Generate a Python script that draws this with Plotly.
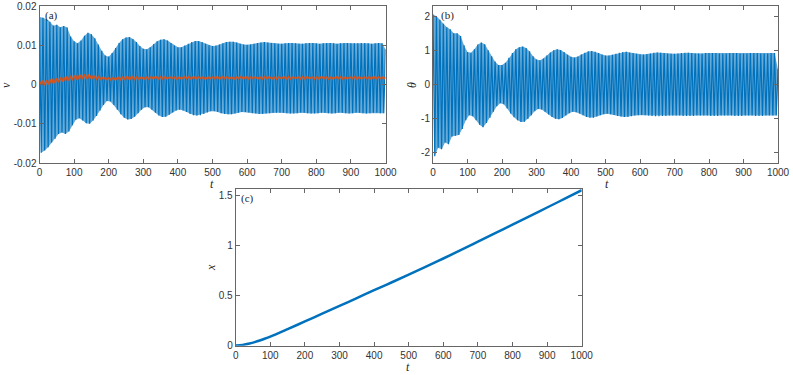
import plotly.graph_objects as go

# time grids: upper peaks at every 10, lower troughs half a period later
t_up = list(range(0, 1001, 10))
t_lo = list(range(5, 1000, 10))

# panel (a): v, blue envelope
v_upper = [
    0.0172, 0.0170, 0.0166, 0.0160, 0.0150, 0.0152, 0.0146, 0.0149, 0.0145, 0.0122,
    0.0110, 0.0105, 0.0112, 0.0124, 0.0132, 0.0128, 0.0118, 0.0102, 0.0086, 0.0074,
    0.0071, 0.0080, 0.0093, 0.0106, 0.0115, 0.0120, 0.0121, 0.0116, 0.0108, 0.0098,
    0.0091, 0.0090, 0.0095, 0.0103, 0.0110, 0.0114, 0.0115, 0.0112, 0.0106, 0.0099,
    0.0095, 0.0095, 0.0099, 0.0104, 0.0108, 0.0111, 0.0111, 0.0108, 0.0104, 0.0100,
    0.0098, 0.0099, 0.0102, 0.0105, 0.0108, 0.0109, 0.0109, 0.0107, 0.0104, 0.0102,
    0.0101, 0.0102, 0.0104, 0.0106, 0.0107, 0.0108, 0.0107, 0.0106, 0.0105, 0.0104,
    0.0104, 0.0105, 0.0106, 0.0106, 0.0105, 0.0104, 0.0104, 0.0105, 0.0106, 0.0106,
    0.0105, 0.0104, 0.0105, 0.0106, 0.0106, 0.0105, 0.0104, 0.0105, 0.0106, 0.0106,
    0.0105, 0.0105, 0.0105, 0.0106, 0.0106, 0.0105, 0.0104, 0.0105, 0.0106, 0.0105,
    0.0090,
]
v_lower = [
    -0.0174, -0.0168, -0.0160, -0.0148, -0.0138, -0.0126, -0.0122, -0.0126, -0.0120, -0.0104,
    -0.0090, -0.0086, -0.0092, -0.0099, -0.0100, -0.0092, -0.0080, -0.0066, -0.0052, -0.0042,
    -0.0043, -0.0052, -0.0064, -0.0076, -0.0085, -0.0089, -0.0088, -0.0082, -0.0073, -0.0064,
    -0.0058, -0.0058, -0.0064, -0.0072, -0.0079, -0.0083, -0.0082, -0.0077, -0.0071, -0.0066,
    -0.0064, -0.0066, -0.0070, -0.0075, -0.0078, -0.0079, -0.0078, -0.0075, -0.0071, -0.0068,
    -0.0068, -0.0070, -0.0073, -0.0075, -0.0076, -0.0076, -0.0074, -0.0072, -0.0070, -0.0070,
    -0.0071, -0.0073, -0.0074, -0.0075, -0.0075, -0.0074, -0.0073, -0.0072, -0.0072, -0.0072,
    -0.0072, -0.0073, -0.0074, -0.0074, -0.0073, -0.0072, -0.0072, -0.0073, -0.0074, -0.0074,
    -0.0073, -0.0072, -0.0072, -0.0073, -0.0074, -0.0073, -0.0072, -0.0072, -0.0073, -0.0074,
    -0.0073, -0.0072, -0.0072, -0.0073, -0.0074, -0.0073, -0.0072, -0.0072, -0.0073, -0.0073,
]

# panel (a): orange band
w_upper = [
    0.0008, 0.0010, 0.0011, 0.0013, 0.0015, 0.0016, 0.0018, 0.0019, 0.0021, 0.0022,
    0.0023, 0.0024, 0.0025, 0.0026, 0.0026, 0.0024, 0.0022, 0.0020, 0.0019, 0.0018,
    0.0017, 0.0017, 0.0018, 0.0019, 0.0020, 0.0021, 0.0021, 0.0020, 0.0019, 0.0019,
    0.0019, 0.0019, 0.0019, 0.0020, 0.0020, 0.0020, 0.0020, 0.0019, 0.0019, 0.0019,
    0.0019, 0.0019, 0.0020, 0.0020, 0.0020, 0.0020, 0.0019, 0.0019, 0.0019, 0.0019,
    0.0019, 0.0020, 0.0020, 0.0020, 0.0019, 0.0019, 0.0019, 0.0019, 0.0020, 0.0020,
    0.0020, 0.0019, 0.0019, 0.0019, 0.0019, 0.0020, 0.0020, 0.0019, 0.0019, 0.0019,
    0.0019, 0.0020, 0.0020, 0.0019, 0.0019, 0.0019, 0.0020, 0.0020, 0.0019, 0.0019,
    0.0019, 0.0020, 0.0020, 0.0019, 0.0019, 0.0019, 0.0020, 0.0020, 0.0019, 0.0019,
    0.0019, 0.0020, 0.0020, 0.0019, 0.0019, 0.0019, 0.0020, 0.0020, 0.0019, 0.0019,
    0.0019,
]
w_lower = [
    -0.0001, -0.0002, 0.0000, 0.0002, 0.0004, 0.0006, 0.0007, 0.0009, 0.0010, 0.0011,
    0.0012, 0.0013, 0.0014, 0.0014, 0.0014, 0.0014, 0.0014, 0.0013, 0.0013, 0.0013,
    0.0012, 0.0012, 0.0012, 0.0012, 0.0012, 0.0012, 0.0013, 0.0013, 0.0014, 0.0014,
    0.0014, 0.0014, 0.0015, 0.0015, 0.0014, 0.0014, 0.0014, 0.0015, 0.0015, 0.0014,
    0.0014, 0.0015, 0.0015, 0.0014, 0.0014, 0.0015, 0.0015, 0.0014, 0.0014, 0.0015,
    0.0015, 0.0014, 0.0014, 0.0015, 0.0015, 0.0014, 0.0014, 0.0015, 0.0015, 0.0014,
    0.0014, 0.0015, 0.0015, 0.0014, 0.0014, 0.0015, 0.0015, 0.0014, 0.0014, 0.0015,
    0.0015, 0.0014, 0.0014, 0.0015, 0.0015, 0.0014, 0.0014, 0.0015, 0.0015, 0.0014,
    0.0014, 0.0015, 0.0015, 0.0014, 0.0014, 0.0015, 0.0015, 0.0014, 0.0014, 0.0015,
    0.0015, 0.0014, 0.0014, 0.0015, 0.0015, 0.0014, 0.0014, 0.0015, 0.0015, 0.0014,
]

# panel (b): theta envelope
th_upper = [
    2.05, 2.00, 1.90, 1.78, 1.68, 1.62, 1.50, 1.50, 1.42, 1.15,
    0.95, 0.93, 1.03, 1.17, 1.23, 1.18, 1.00, 0.83, 0.67, 0.57,
    0.57, 0.64, 0.78, 0.92, 1.03, 1.09, 1.11, 1.07, 0.97, 0.83,
    0.73, 0.71, 0.76, 0.85, 0.94, 1.00, 1.03, 1.01, 0.95, 0.87,
    0.81, 0.79, 0.82, 0.88, 0.93, 0.97, 0.98, 0.96, 0.92, 0.88,
    0.85, 0.85, 0.87, 0.90, 0.93, 0.95, 0.96, 0.94, 0.92, 0.90,
    0.88, 0.88, 0.89, 0.91, 0.93, 0.94, 0.93, 0.92, 0.91, 0.90,
    0.90, 0.91, 0.92, 0.93, 0.93, 0.92, 0.91, 0.91, 0.91, 0.92,
    0.92, 0.92, 0.92, 0.91, 0.91, 0.91, 0.92, 0.92, 0.92, 0.91,
    0.91, 0.91, 0.92, 0.92, 0.92, 0.91, 0.91, 0.91, 0.92, 0.92,
    0.45,
]
th_lower = [
    -2.10, -1.85, -1.90, -1.70, -1.75, -1.52, -1.50, -1.48, -1.30, -1.05,
    -0.90, -0.93, -1.05, -1.18, -1.25, -1.13, -0.97, -0.80, -0.64, -0.55,
    -0.58, -0.70, -0.85, -0.96, -1.05, -1.10, -1.09, -1.01, -0.90, -0.78,
    -0.72, -0.73, -0.80, -0.88, -0.95, -1.00, -1.02, -0.98, -0.91, -0.84,
    -0.80, -0.81, -0.85, -0.90, -0.95, -0.97, -0.97, -0.94, -0.90, -0.87,
    -0.86, -0.87, -0.89, -0.92, -0.94, -0.95, -0.95, -0.93, -0.91, -0.90,
    -0.89, -0.90, -0.91, -0.92, -0.93, -0.93, -0.92, -0.92, -0.91, -0.91,
    -0.91, -0.91, -0.92, -0.92, -0.92, -0.92, -0.91, -0.91, -0.91, -0.91,
    -0.92, -0.92, -0.92, -0.91, -0.91, -0.91, -0.91, -0.92, -0.92, -0.92,
    -0.91, -0.91, -0.91, -0.92, -0.92, -0.92, -0.91, -0.91, -0.91, -0.91,
]

# panel (c): x(t)
t_x = [0, 20, 40, 60, 80, 100, 150, 200, 250, 300, 350, 400, 450, 500,
       550, 600, 650, 700, 750, 800, 850, 900, 950, 1000]
x_vals = [0.003, 0.008, 0.022, 0.042, 0.065, 0.090, 0.165, 0.243, 0.320, 0.398,
          0.476, 0.555, 0.632, 0.710, 0.790, 0.872, 0.955, 1.040, 1.125,
          1.210, 1.296, 1.382, 1.468, 1.555]

BLUE = "#0072BD"
ORANGE = "#D95319"
W, H = 793, 375


def zigzag(up, lo):
    xs, ys = [], []
    for i, tu in enumerate(t_up):
        xs.append(tu)
        ys.append(up[i])
        if i < len(t_lo):
            xs.append(t_lo[i])
            ys.append(lo[i])
    return xs, ys


def band(up, lo):
    return t_up + t_lo[::-1], up + lo[::-1]


fig = go.Figure()

# (a)
bx, by = band(v_upper, v_lower)
fig.add_trace(go.Scatter(x=bx, y=by, fill="toself", fillcolor="rgba(0,114,189,0.6)",
                         line=dict(width=0), hoverinfo="skip", xaxis="x", yaxis="y"))
zx, zy = zigzag(v_upper, v_lower)
fig.add_trace(go.Scatter(x=zx, y=zy, mode="lines", line=dict(color=BLUE, width=1.2),
                         xaxis="x", yaxis="y"))
zx, zy = zigzag(w_upper, w_lower)
fig.add_trace(go.Scatter(x=zx, y=zy, mode="lines", line=dict(color=ORANGE, width=1.5),
                         xaxis="x", yaxis="y"))

# (b)
bx, by = band(th_upper, th_lower)
fig.add_trace(go.Scatter(x=bx, y=by, fill="toself", fillcolor="rgba(0,114,189,0.6)",
                         line=dict(width=0), hoverinfo="skip", xaxis="x2", yaxis="y2"))
zx, zy = zigzag(th_upper, th_lower)
fig.add_trace(go.Scatter(x=zx, y=zy, mode="lines", line=dict(color=BLUE, width=1.2),
                         xaxis="x2", yaxis="y2"))

# (c)
fig.add_trace(go.Scatter(x=t_x, y=x_vals, mode="lines", line=dict(color=BLUE, width=2.5),
                         line_shape="spline", xaxis="x3", yaxis="y3"))

axis_style = dict(
    showline=True, linecolor="#666", linewidth=1, mirror="ticks",
    ticks="inside", ticklen=4, tickcolor="#666",
    showgrid=False, zeroline=False, automargin=False,
    tickfont=dict(family="Liberation Sans, Arial", size=10, color="#333"),
)
xt = dict(range=[0, 1000], tickvals=list(range(0, 1001, 100)), **axis_style)


def px(x):
    return x / W


def py(y):
    return 1 - y / H


fig.update_layout(
    width=W, height=H,
    margin=dict(l=0, r=0, t=0, b=0),
    paper_bgcolor="white", plot_bgcolor="white",
    showlegend=False,
    xaxis=dict(domain=[px(39.5), px(385.5)], anchor="y", **xt),
    yaxis=dict(domain=[py(163), py(6)], anchor="x", range=[-0.02, 0.02],
               tickvals=[-0.02, -0.01, 0, 0.01, 0.02],
               ticktext=["-0.02", "-0.01", "0", "0.01", "0.02"], **axis_style),
    xaxis2=dict(domain=[px(433), px(778)], anchor="y2", **xt),
    yaxis2=dict(domain=[py(163), py(6)], anchor="x2", range=[-2.3, 2.3],
                tickvals=[-2, -1, 0, 1, 2], ticktext=["-2", "-1", "0", "1", "2"],
                **axis_style),
    xaxis3=dict(domain=[px(235.7), px(581.7)], anchor="y3", **xt),
    yaxis3=dict(domain=[py(345.7), py(189)], anchor="x3", range=[0, 1.567],
                tickvals=[0, 0.5, 1, 1.5], ticktext=["0", "0.5", "1", "1.5"],
                **axis_style),
)

serif = dict(family="Liberation Serif, Times New Roman", size=12, color="#262626")
labels = [
    ("<i>v</i>", 6, 85, -90), ("<i>t</i>", 212, 184, 0),
    ("<i>θ</i>", 412, 85, -90), ("<i>t</i>", 607, 184, 0),
    ("<i>x</i>", 211, 268, -90), ("<i>t</i>", 408, 367, 0),
]
for text, x, y, ang in labels:
    fig.add_annotation(text=text, x=px(x), y=py(y), xref="paper", yref="paper",
                       xanchor="center", yanchor="middle",
                       showarrow=False, textangle=ang, font=serif)

for text, x, y in [("(a)", 51, 15), ("(b)", 447, 15), ("(c)", 247, 199)]:
    fig.add_annotation(text=text, x=px(x), y=py(y), xref="paper", yref="paper",
                       xanchor="center", yanchor="middle",
                       showarrow=False, font=dict(family="Liberation Serif", size=11,
                                                  color="#262626"))

# drop the default page margin so the figure sits at the window's corner
fig.write_html("out.html", config={"displayModeBar": False},
               post_script="document.body.style.margin='0';")
